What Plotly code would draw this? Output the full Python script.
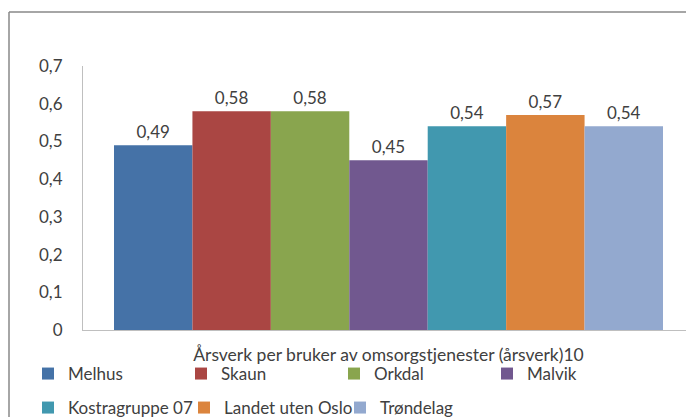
import plotly.graph_objects as go

category = ["Årsverk per bruker av omsorgstjenester (årsverk)10"]
series_names = ["Melhus", "Skaun", "Orkdal", "Malvik",
                "Kostragruppe 07", "Landet uten Oslo", "Trøndelag"]
values = [0.49, 0.58, 0.58, 0.45, 0.54, 0.57, 0.54]
colors = ["#4572A7", "#AA4643", "#89A54E", "#71588F",
          "#4198AF", "#DB843D", "#93A9CF"]
y_ticks = [0, 0.1, 0.2, 0.3, 0.4, 0.5, 0.6, 0.7]
y_ticklabels = ["0", "0,1", "0,2", "0,3", "0,4", "0,5", "0,6", "0,7"]

FONT = "Lato"
TXT = "#404040"
FS = 17

fig = go.Figure()
for i, (name, v, c) in enumerate(zip(series_names, values, colors)):
    fig.add_trace(go.Bar(
        x=category, y=[v], name=name,
        marker=dict(color=c, line=dict(width=0)),
        text=[f"{v:.2f}".replace(".", ",")],
        textposition="outside",
        textfont=dict(family=FONT, size=FS, color=TXT),
        cliponaxis=False,
        legend="legend" if i < 4 else "legend2",
    ))

# the page is 686 px wide; the chart continues past the right edge
W, H = 700, 417
L, R, T, B = 83, 14, 66, 87
pw = W - L - R
ph = H - T - B
full_cat = 611.0

fx0 = (9 - L) / pw
fy1 = (H - B - 12) / ph
frame_line = dict(color="#888888", width=1.5)

fig.update_layout(
    width=W, height=H,
    margin=dict(l=L, r=R, t=T, b=B, pad=0, autoexpand=False),
    paper_bgcolor="white", plot_bgcolor="white",
    barmode="group", bargap=62 / 611, bargroupgap=0,
    font=dict(family=FONT, size=FS, color=TXT),
    xaxis=dict(
        type="category",
        range=[-0.5, -0.5 + pw / full_cat],
        showline=True, linecolor="#BFBFBF", linewidth=1,
        ticks="", showgrid=False, zeroline=False,
        tickfont=dict(family=FONT, size=17.5, color=TXT),
        ticklabelstandoff=9,
    ),
    yaxis=dict(
        range=[0, 0.7], tickvals=y_ticks, ticktext=y_ticklabels,
        showline=True, linecolor="#BFBFBF", linewidth=1, mirror=False,
        showgrid=False, zeroline=False, ticks="",
        ticklabelstandoff=16,
        tickfont=dict(family=FONT, size=FS, color=TXT),
    ),
    legend=dict(
        orientation="h", x=(28 - L) / pw, y=(H - B - 356) / ph,
        xanchor="left", yanchor="top",
        entrywidth=108, entrywidthmode="pixels",
        itemwidth=30, tracegroupgap=0,
        font=dict(family=FONT, size=FS, color=TXT),
        bgcolor="rgba(0,0,0,0)",
    ),
    legend2=dict(
        orientation="h", x=(28 - L) / pw, y=(H - B - 390) / ph,
        xanchor="left", yanchor="top",
        entrywidth=111, entrywidthmode="pixels",
        itemwidth=30,
        font=dict(family=FONT, size=FS, color=TXT),
        bgcolor="rgba(0,0,0,0)",
    ),
    shapes=[
        dict(type="line", xref="paper", yref="paper",
             x0=fx0, x1=1.0, y0=fy1, y1=fy1, line=frame_line, layer="below"),
        dict(type="line", xref="paper", yref="paper",
             x0=fx0, x1=fx0, y0=-0.4, y1=fy1, line=frame_line, layer="below"),
    ],
)

fig.write_html(
    "out.html", config={"displayModeBar": False},
    post_script=("document.documentElement.style.margin='0';"
                 "document.body.style.margin='0';"
                 "document.body.style.overflow='hidden';"),
)
